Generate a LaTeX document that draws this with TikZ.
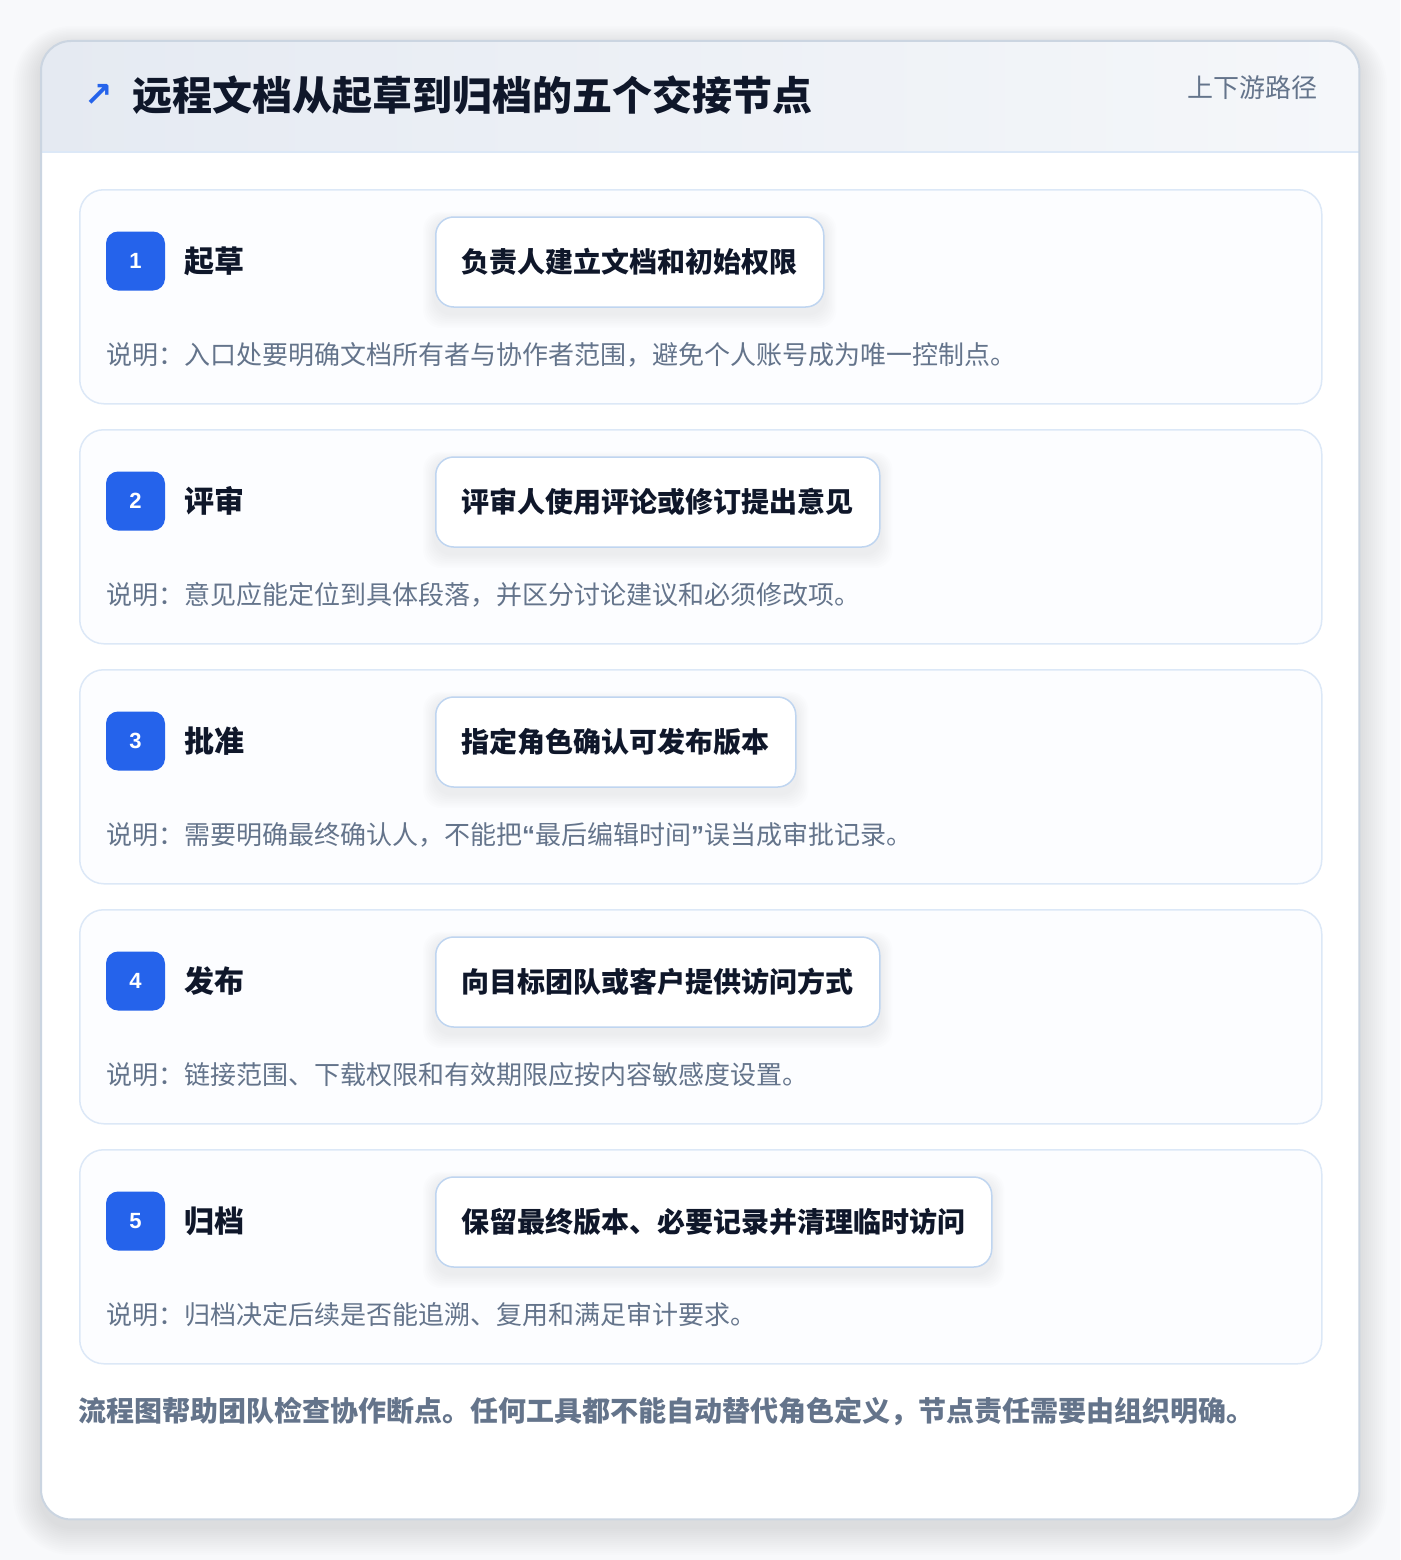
\documentclass[tikz,border=0pt]{standalone}
\usepackage{fontspec}
\setmainfont{Noto Sans CJK SC}
\newfontfamily\numfont{Liberation Sans}
\newfontfamily\symfont{DejaVu Sans}
\usetikzlibrary{positioning}
\definecolor{brandblue}{HTML}{2563EB}
\definecolor{inkdark}{HTML}{0F172A}
\definecolor{inkmuted}{HTML}{64748B}
\definecolor{cardline}{HTML}{DCE8F7}
\definecolor{boxline}{HTML}{BFD5F0}
\definecolor{frameline}{HTML}{CBD5E1}
\definecolor{headleft}{HTML}{E5EAF2}
\definecolor{headright}{HTML}{F5F7FA}
\definecolor{pagebg}{HTML}{F8F9FB}
\definecolor{cardfill}{HTML}{FCFDFF}
\pgfdeclarelayer{back}
\pgfdeclarelayer{shade}
\pgfsetlayers{back,shade,main}
\newcommand{\q}[1]{{\numfont\bfseries #1}}
\tikzset{every picture/.style={x=1pt, y=-1pt}}
\tikzset{stepcard/.style={draw=cardline, line width=1.5pt, fill=cardfill, rounded corners=24pt,
  minimum width=1242pt, minimum height=214pt, anchor=north west, inner sep=0pt}}
\tikzset{badge/.style={fill=brandblue, rounded corners=12pt, minimum size=59pt, inner sep=0pt,
  text=white, font=\numfont\bfseries\fontsize{22}{22}\selectfont}}
\tikzset{steptitle/.style={anchor=west, inner sep=0pt, text=inkdark, font=\bfseries\fontsize{30}{30}\selectfont}}
\tikzset{actbox/.style={draw=boxline, line width=1.5pt, fill=white, rounded corners=18pt,
  minimum height=90pt, inner xsep=26pt, anchor=west, text=inkdark,
  font=\bfseries\fontsize{28}{28}\selectfont}}
\tikzset{notetext/.style={anchor=west, inner sep=0pt, text=inkmuted, font=\fontsize{26}{26}\selectfont}}

\begin{document}
\begin{tikzpicture}
\useasboundingbox (0,0) rectangle (1400,1560);
\begin{pgfonlayer}{back}
\fill[pagebg] (0,0) rectangle (1400,1560);
% soft shadow under the frame
\foreach \k in {1,...,14} {
\pgfmathsetmacro{\r}{30+2*\k}
\fill[black, opacity=0.007, rounded corners=\r pt] (41-2*\k,47-1.5*\k) rectangle (1359+2*\k,1527+2*\k);
}
\node[fill=white, rounded corners=30pt, minimum width=1318pt, minimum height=1478pt,
  anchor=north west, inner sep=0pt] (frame) at (41,41) {};
\begin{scope}
\clip[rounded corners=30pt] (frame.north west) rectangle (frame.south east);
\shade[left color=headleft, right color=headright] (41,41) rectangle (1359,152);
\end{scope}
\draw[cardline, line width=1.5pt] (41,152) -- (1359,152);
\draw[frameline, line width=2pt, rounded corners=30pt] (frame.north west) rectangle (frame.south east);
\end{pgfonlayer}

% header
\node[anchor=west, inner sep=0pt, text=brandblue, font=\symfont\bfseries\fontsize{34}{34}\selectfont] (arrow) at (84,95) {↗};
\node[anchor=west, inner sep=0pt, text=inkdark, font=\bfseries\fontsize{40}{40}\selectfont, right=19pt of arrow] (title) {远程文档从起草到归档的五个交接节点};
\node[anchor=east, inner sep=0pt, text=inkmuted, font=\fontsize{26}{26}\selectfont] (route) at (1318,88) {上下游路径};

% five handoff steps
\foreach \i/\name/\act/\note in {
1/起草/负责人建立文档和初始权限/说明：入口处要明确文档所有者与协作者范围，避免个人账号成为唯一控制点。,
2/评审/评审人使用评论或修订提出意见/说明：意见应能定位到具体段落，并区分讨论建议和必须修改项。,
3/批准/指定角色确认可发布版本/说明：需要明确最终确认人，不能把\q{“}最后编辑时间\q{”}误当成审批记录。,
4/发布/向目标团队或客户提供访问方式/说明：链接范围、下载权限和有效期限应按内容敏感度设置。,
5/归档/保留最终版本、必要记录并清理临时访问/说明：归档决定后续是否能追溯、复用和满足审计要求。} {
\pgfmathsetmacro{\ytop}{189+240*(\i-1)}
\begin{pgfonlayer}{back}
\node[stepcard] (card\i) at (79,\ytop) {};
\end{pgfonlayer}
\node[badge] (badge\i) at (135.5,\ytop+72) {\i};
\node[steptitle, right=19pt of badge\i] (step\i) {\name};
\node[actbox] (act\i) at (435,\ytop+73) {\act};
\node[notetext] (note\i) at (106,\ytop+166) {\note};
\begin{pgfonlayer}{shade}
\foreach \k in {1,...,8} {
\fill[black, opacity=0.008, rounded corners=18pt] ([xshift=-1.5*\k pt, yshift=-5pt+1.2*\k pt]act\i.north west) rectangle ([xshift=1.5*\k pt, yshift=-6pt-1.8*\k pt]act\i.south east);
}
\end{pgfonlayer}
}

\node[anchor=west, inner sep=0pt, text=inkmuted, font=\bfseries\fontsize{28}{28}\selectfont] (footer) at (78,1411)
  {流程图帮助团队检查协作断点。任何工具都不能自动替代角色定义，节点责任需要由组织明确。};
\end{tikzpicture}
\end{document}
